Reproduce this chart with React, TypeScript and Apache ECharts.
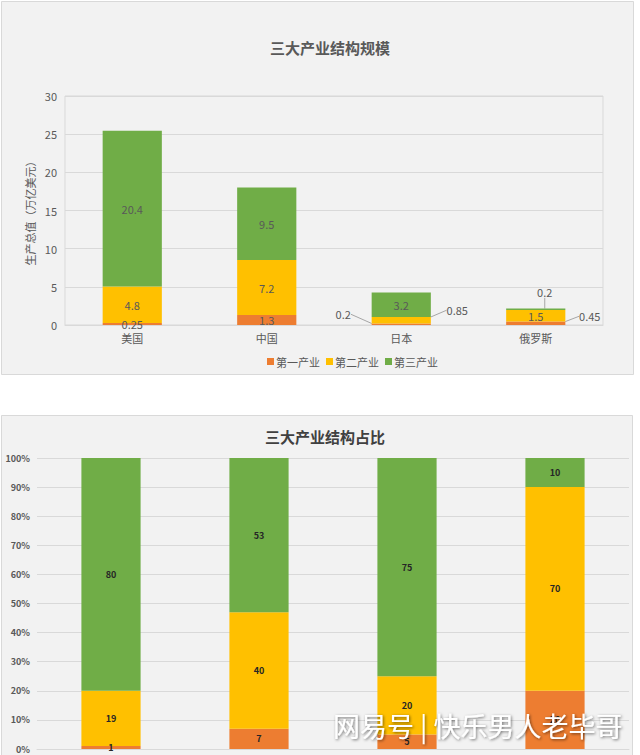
import React, { useEffect, useRef } from "react";
import * as echarts from "echarts";

const countries = ["美国", "中国", "日本", "俄罗斯"];
const seriesNames = ["第一产业", "第二产业", "第三产业"];
// 万亿美元
const primaryScale = [0.25, 1.3, 0.2, 0.45];
const secondaryScale = [4.8, 7.2, 0.85, 1.5];
const tertiaryScale = [20.4, 9.5, 3.2, 0.2];
// 占比 (%)
const primaryShare = [1, 7, 5, 20];
const secondaryShare = [19, 40, 20, 70];
const tertiaryShare = [80, 53, 75, 10];
const scaleTicks = { min: 0, max: 30, interval: 5 };
const shareTicks = { min: 0, max: 100, interval: 10 };

const colors = ["#ED7D31", "#FFC000", "#70AD47"];
const FONT = "'Noto Sans CJK SC', 'Noto Sans', sans-serif";

// label offsets (pixels) for the small segments that carry a leader line
const moved: Record<string, { dx: number; dy: number }> = {
  "0-2": { dx: -58, dy: -10 },
  "0-3": { dx: 54, dy: -7 },
  "1-2": { dx: 56, dy: -10 },
  "2-3": { dx: 9, dy: -17 },
};

export default function App() {
  const ref = useRef<HTMLDivElement>(null);
  useEffect(() => {
    if (!ref.current) return;
    const chart = echarts.init(ref.current, undefined, { renderer: "svg" });
    const topData = [primaryScale, secondaryScale, tertiaryScale];
    const botData = [primaryShare, secondaryShare, tertiaryShare];

    const topSeries = topData.map((d, i) => ({
      name: seriesNames[i],
      type: "bar",
      stack: "scale",
      xAxisIndex: 0,
      yAxisIndex: 0,
      barWidth: "44%",
      data: d,
      itemStyle: { color: colors[i] },
      label: {
        show: true,
        position: "inside",
        color: "#595959",
        fontSize: 11,
        fontFamily: FONT,
      },
      labelLine: { show: true, lineStyle: { color: "#a6a6a6", width: 1 } },
      labelLayout: (p: any) => {
        const m = moved[i + "-" + p.dataIndex];
        return m ? { dx: m.dx, dy: m.dy } : {};
      },
    }));
    const botSeries = botData.map((d, i) => ({
      name: seriesNames[i],
      type: "bar",
      stack: "share",
      xAxisIndex: 1,
      yAxisIndex: 1,
      barWidth: "40%",
      data: d,
      itemStyle: { color: colors[i] },
      label: {
        show: true,
        position: "inside",
        color: "#262626",
        fontSize: 9,
        fontWeight: "bold",
        fontFamily: FONT,
      },
    }));

    chart.setOption({
      animation: false,
      backgroundColor: "#ffffff",
      textStyle: { fontFamily: FONT },
      graphic: [
        {
          type: "rect",
          z: -10,
          shape: { x: 1.5, y: 1.5, width: 632, height: 373 },
          style: { fill: "#f2f2f2", stroke: "#d9d9d9", lineWidth: 1 },
        },
        {
          type: "rect",
          z: -10,
          shape: { x: 1.5, y: 415.5, width: 631, height: 360 },
          style: { fill: "#f2f2f2", stroke: "#d9d9d9", lineWidth: 1 },
        },
        {
          type: "text",
          z: 100,
          left: 333,
          top: 712,
          style: {
            text: "网易号 | 快乐男人老毕哥",
            fill: "#ffffff",
            font: "27px 'Noto Sans CJK SC'",
            textShadowColor: "rgba(0,0,0,0.55)",
            textShadowBlur: 3,
            textShadowOffsetX: 1,
            textShadowOffsetY: 1,
          },
        },
      ],
      title: [
        {
          text: "三大产业结构规模",
          left: 325,
          top: 35,
          textAlign: "center",
          textStyle: { fontSize: 15, fontWeight: "bold", color: "#595959", fontFamily: FONT },
        },
        {
          text: "三大产业结构占比",
          left: 320,
          top: 424,
          textAlign: "center",
          textStyle: { fontSize: 15, fontWeight: "bold", color: "#404040", fontFamily: FONT },
        },
      ],
      legend: {
        data: seriesNames,
        left: 262,
        top: 351,
        itemWidth: 7,
        itemHeight: 7,
        itemGap: 6,
        icon: "rect",
        textStyle: { color: "#595959", fontSize: 11, fontFamily: FONT, padding: [0, 0, 0, -3] },
      },
      grid: [
        { left: 65, right: 37, top: 96, height: 229, show: true, borderColor: "#d9d9d9", borderWidth: 1, backgroundColor: "transparent" },
        { left: 37, right: 11, top: 458, height: 291 },
      ],
      xAxis: [
        {
          type: "category",
          gridIndex: 0,
          data: countries,
          axisLine: { lineStyle: { color: "#d9d9d9" } },
          axisTick: { show: false },
          axisLabel: { color: "#595959", fontSize: 11, margin: 7, fontFamily: FONT },
        },
        {
          type: "category",
          gridIndex: 1,
          data: countries,
          axisLine: { lineStyle: { color: "#d9d9d9" } },
          axisTick: { show: false },
          axisLabel: { show: false },
        },
      ],
      yAxis: [
        {
          type: "value",
          gridIndex: 0,
          ...scaleTicks,
          name: "生产总值（万亿美元）",
          nameLocation: "middle",
          nameGap: 30,
          nameMoveOverlap: false,
          nameRotate: 90,
          nameTextStyle: { color: "#595959", fontSize: 11, fontFamily: FONT },
          axisLine: { show: false },
          axisTick: { show: false },
          axisLabel: { color: "#595959", fontSize: 11, margin: 8, fontFamily: FONT },
          splitLine: { lineStyle: { color: "#d9d9d9" } },
        },
        {
          type: "value",
          gridIndex: 1,
          ...shareTicks,
          axisLine: { show: false },
          axisTick: { show: false },
          axisLabel: {
            color: "#595959",
            fontSize: 9,
            fontWeight: "bold",
            margin: 7,
            formatter: "{value}%",
            fontFamily: FONT,
          },
          splitLine: { lineStyle: { color: "#d9d9d9" } },
        },
      ],
      series: [...topSeries, ...botSeries],
    });
    return () => chart.dispose();
  }, []);
  return (
    <div
      ref={ref}
      style={{ position: "absolute", left: 0, top: 0, width: 640, height: 755 }}
    />
  );
}
